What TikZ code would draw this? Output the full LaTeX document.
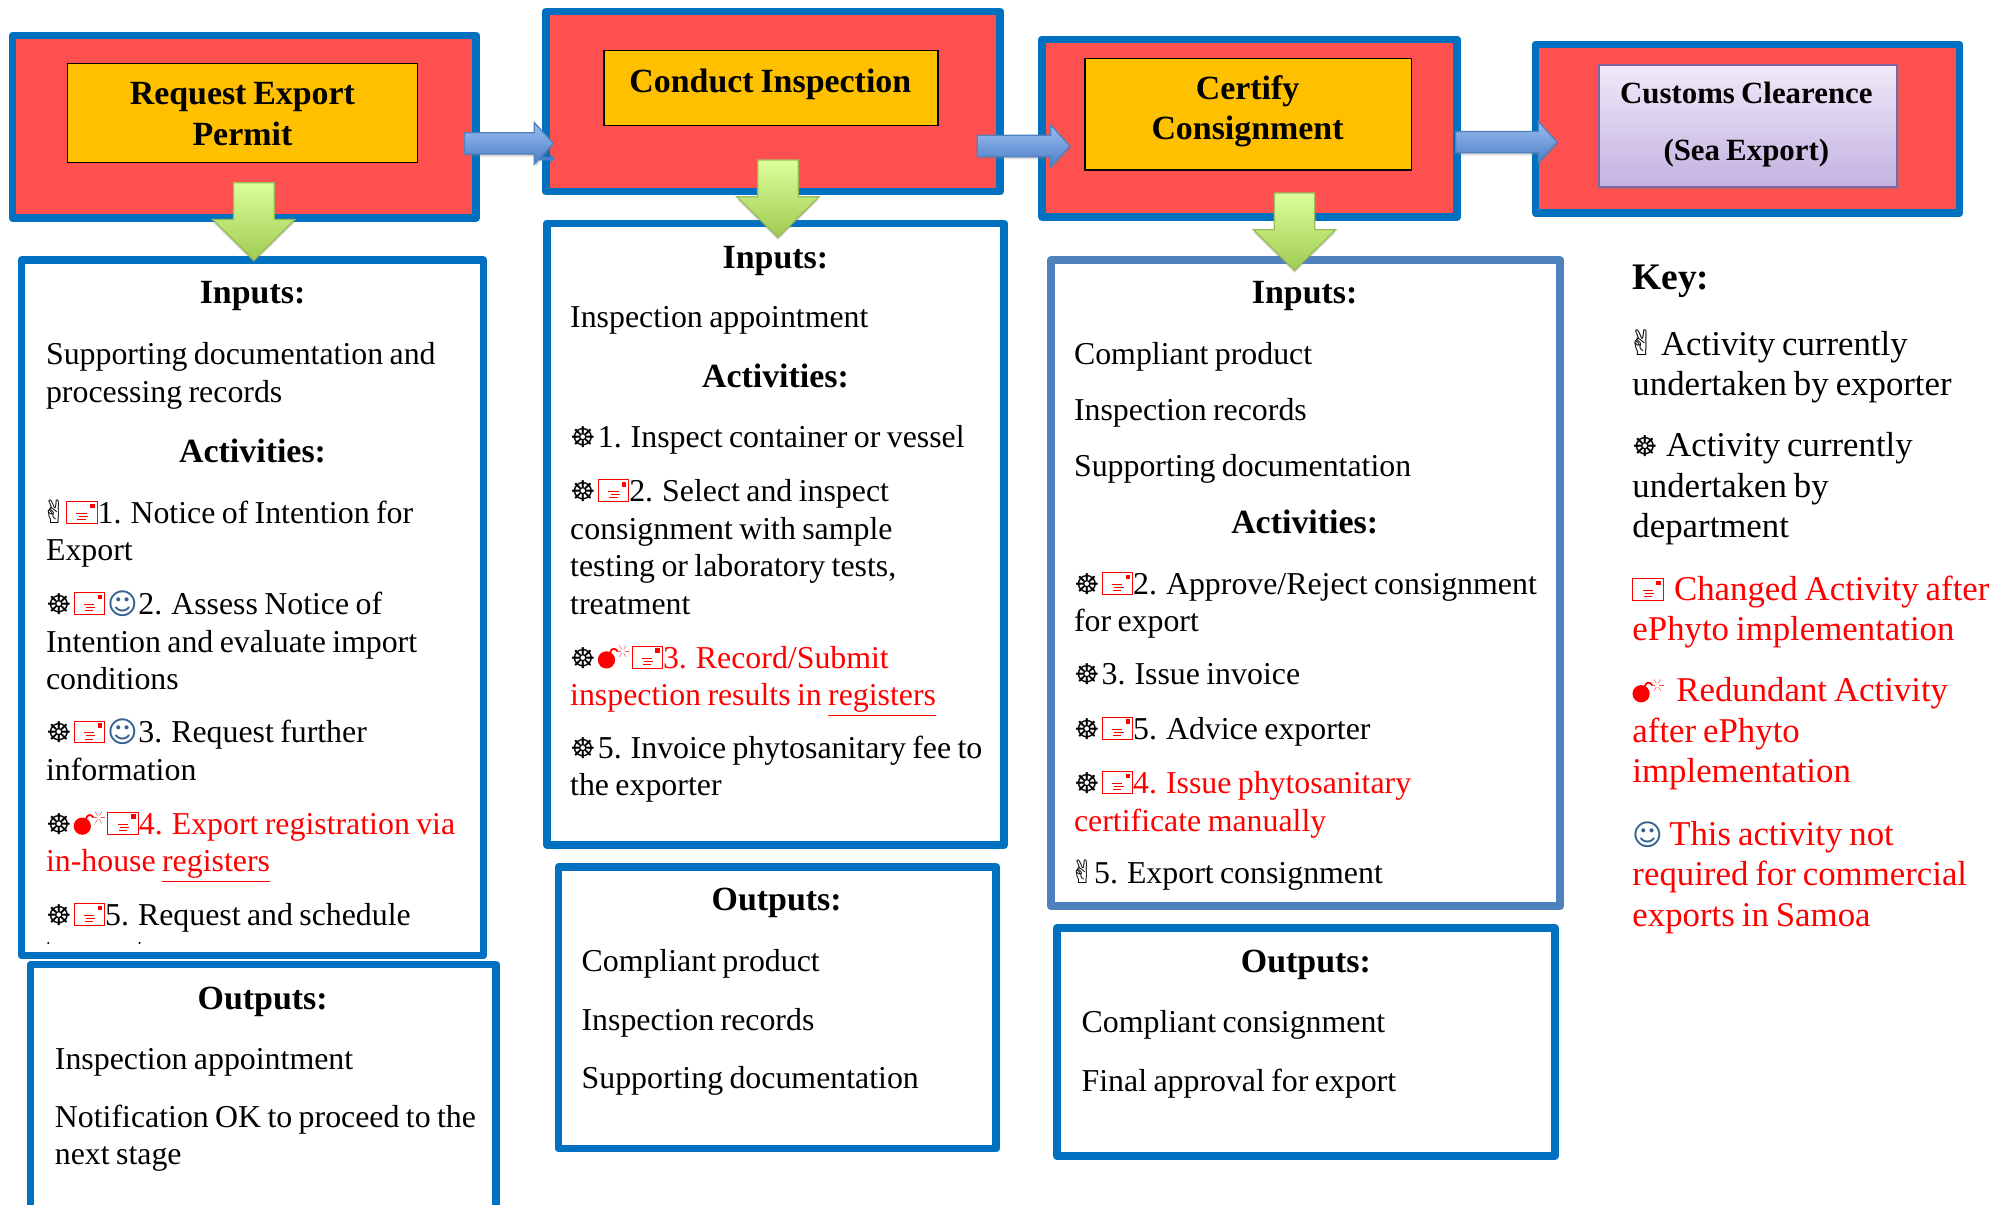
\documentclass[tikz,border=0pt]{standalone}
\usepackage{fontspec}
\usepackage{xcolor}
\usetikzlibrary{calc,fit,shadows}
\setmainfont[WordSpace=0.8]{Liberation Serif}
\newfontfamily\symfont{DejaVu Sans}
\definecolor{boxblue}{HTML}{0070C0}
\definecolor{softblue}{HTML}{4F81BD}
\definecolor{boxred}{HTML}{FF5050}
\definecolor{boxorange}{HTML}{FFC000}
\definecolor{smileblue}{HTML}{365F91}
\newcommand{\bodyfont}{\fontsize{17.85}{21}\selectfont}
\newcommand{\keyfont}{\fontsize{19.5}{22.7}\selectfont}
\newcommand{\headfont}{\fontsize{19}{21}\selectfont\bfseries}
\newcommand{\titlefont}{\fontsize{19}{22.7}\selectfont\bfseries}
\newcommand{\handsym}{\kern-.9mm{\color{black}\symfont\char"270C}\kern-.4mm}
\newcommand{\wheelsym}{{\color{black}\symfont\fontsize{16}{21}\selectfont\char"2638}\kern.4mm}
\newcommand{\smilesym}{{\color{smileblue}\symfont\fontsize{16.5}{21}\selectfont\char"263A}}
\newcommand{\mailsym}{\tikz[x=1mm,y=1mm,baseline=0pt,line width=.2mm]{
		\draw[red] (0,0) rectangle (6,4.3);
		\fill[red] (4.6,3) rectangle (5.5,3.9);
		\draw[red,line width=.12mm] (1.9,2) -- (4,2) (2.4,1.4) -- (4.2,1.4) (2.1,.8) -- (3.8,.8);}}
\newcommand{\bombsym}{\tikz[x=1mm,y=1mm,baseline=0pt,line width=.2mm]{
		\fill[red] (1.7,1.6) circle (1.7);
		\draw[red,line width=.35mm] (2.4,3) .. controls (2.7,4) and (3.4,4) .. (3.9,3.3);
		\foreach \a in {0,60,120,180,240,300}
		\draw[red!70,line width=.1mm] ($(4.9,3.3)+(\a:.4)$) -- ($(4.9,3.3)+(\a:1.3)$);}\kern.4mm}
\newcommand{\blockarrow}[6]{
	\coordinate (arrowbase) at ($(#3)!#6!(#2)$);
	\draw[#1] ($(#2)!#4!90:(#3)$) -- ($(arrowbase)!#4!90:(#3)$) -- ($(arrowbase)!#5!90:(#3)$) -- (#3)
		-- ($(arrowbase)!#5!-90:(#3)$) -- ($(arrowbase)!#4!-90:(#3)$) -- ($(#2)!#4!-90:(#3)$) -- cycle;}
\tikzset{
	redbox/.style={draw=boxblue,fill=boxred,line width=1.5mm,line join=round,inner sep=0pt,outer sep=0pt},
	whitebox/.style={draw=boxblue,fill=white,line width=1.5mm,line join=round,inner sep=0pt,outer sep=0pt},
	orangebox/.style={draw=black,fill=boxorange,line width=.25mm,inner sep=0pt,outer sep=0pt},
	lilacbox/.style={draw=lilacline,top color=lilactop,bottom color=lilacbottom,line width=.4mm,
		drop shadow={opacity=.45,shadow xshift=.4mm,shadow yshift=-.5mm},inner sep=0pt,outer sep=0pt},
	titletxt/.style={align=center,font=\titlefont,inner sep=0pt},
	headtxt/.style={anchor=north,inner sep=0pt,yshift=3.15mm,font=\headfont,execute at begin node=\strut},
	itemtxt/.style={anchor=north west,align=left,inner sep=0pt,yshift=3.15mm,font=\bodyfont,execute at begin node=\strut},
	keytxt/.style={anchor=north west,align=left,inner sep=0pt,yshift=3.4mm,font=\keyfont,execute at begin node=\strut},
	blueblock/.style={draw=softblue,line width=.25mm,top color=bluetop,bottom color=bluebottom,
		drop shadow={opacity=.3,shadow xshift=.3mm,shadow yshift=-.5mm}},
	greenblock/.style={draw=greenline,line width=.25mm,top color=greentop,bottom color=greenbottom,
		drop shadow={opacity=.3,shadow xshift=0mm,shadow yshift=-.5mm}}
}
\definecolor{lilacline}{HTML}{8064A2}
\definecolor{lilactop}{HTML}{F0E9F8}
\definecolor{lilacbottom}{HTML}{C3B2E1}
\definecolor{bluetop}{HTML}{9DBDF0}
\definecolor{bluebottom}{HTML}{4A7EC8}
\definecolor{greenline}{HTML}{9BBB59}
\definecolor{greentop}{HTML}{DBFF9B}
\definecolor{greenbottom}{HTML}{A0CB52}
\begin{document}
\begin{tikzpicture}[x=0.25mm,y=-0.25mm]
	\useasboundingbox (0,0) rectangle (1568,949);

	\node[redbox,fit={(10,28) (375,172)}] (request) {};
	\node[redbox,fit={(430,9) (788,151)}] (inspect) {};
	\node[redbox,fit={(821,31) (1148,171)}] (certify) {};
	\node[redbox,fit={(1210,35) (1544,168)}] (customs) {};
	\node[orangebox,fit={(53,50) (329,128)}] (requestin) {};
	\node[orangebox,fit={(476,40) (739,99)}] (inspectin) {};
	\node[orangebox,fit={(855,46) (1112,134)}] (certifyin) {};
	\node[lilacbox,fit={(1260,51) (1495,147)}] (customsin) {};
	\node[titletxt] (requesttxt) at (191,90) {Request Export\\Permit};
	\node[titletxt] (inspecttxt) at (607,66.5) {Conduct Inspection};
	\node[titletxt] (certifytxt) at (983,87.5) {Certify\\Consignment};
	\node[titletxt,font=\fontsize{17.3}{22.7}\selectfont\bfseries] (customstxt) at (1376,98) {Customs Clearence\\[3.2mm](Sea Export)};

	\node[whitebox,fit={(17,205) (381,753)}] (inputsa) {};
	\node[whitebox,fit={(24,760) (391,965)}] (outputsa) {};
	\node[whitebox,fit={(431,176) (791,666)}] (inputsb) {};
	\node[whitebox,fit={(440,683) (785,905)}] (outputsb) {};
	\node[whitebox,draw=softblue,fit={(828,205) (1229,714)}] (inputsc) {};
	\node[whitebox,fit={(833,731) (1225,911)}] (outputsc) {};

	\coordinate (aafrom) at ([shift={(-9,13)}]request.east);
	\coordinate (aato) at ([shift={(6,33)}]inspect.west);
	\coordinate (abfrom) at ([shift={(-18,35)}]inspect.east);
	\coordinate (abto) at ([shift={(22,14)}]certify.west);
	\coordinate (acfrom) at ([shift={(-1,11)}]certify.east);
	\coordinate (acto) at ([shift={(17,10.5)}]customs.west);
	\coordinate (tinyfrom) at ([shift={(-5,45)}]inspect.west);
	\coordinate (tinyto) at ([shift={(7,45)}]inspect.west);
	\blockarrow{blueblock}{aafrom}{aato}{2.1mm}{4.1mm}{3.75mm}
	\blockarrow{blueblock}{abfrom}{abto}{2.1mm}{4.1mm}{3.75mm}
	\blockarrow{blueblock}{acfrom}{acto}{2.1mm}{4.1mm}{3.75mm}
	\blockarrow{draw=softblue,fill=bluebottom,line width=.1mm}{tinyfrom}{tinyto}{.3mm}{.7mm}{.8mm}

	\coordinate (gafrom) at ([shift={(7.5,-28)}]request.south);
	\coordinate (gato) at ([shift={(1,0)}]inputsa.north);
	\coordinate (gbfrom) at ([shift={(4,-25)}]inspect.south);
	\coordinate (gbto) at ([shift={(2,11)}]inputsb.north);
	\coordinate (gcfrom) at ([shift={(35.5,-19)}]certify.south);
	\coordinate (gcto) at ([shift={(-8.5,8)}]inputsc.north);
	\blockarrow{greenblock}{gafrom}{gato}{4mm}{8.1mm}{8mm}
	\blockarrow{greenblock}{gbfrom}{gbto}{4mm}{8.1mm}{8mm}
	\blockarrow{greenblock}{gcfrom}{gcto}{4mm}{8.1mm}{8mm}

	\node[headtxt] (ainhead) at (199,231) {Inputs:};
	\node[itemtxt] (ainone) at (36,279) {\strut Supporting documentation and\\processing records};
	\node[headtxt] (aacthead) at (199,356) {Activities:};
	\node[itemtxt] (aactone) at (36,404) {\strut\handsym\mailsym1. Notice of Intention for\\Export};
	\node[itemtxt] (aacttwo) at (36,476) {\strut\wheelsym\mailsym\kern.5mm\smilesym2. Assess Notice of\\Intention and evaluate import\\conditions};
	\node[itemtxt] (aactthree) at (36,577) {\strut\wheelsym\mailsym\kern.5mm\smilesym3. Request further\\information};
	\node[itemtxt,text=red] (aactfour) at (36,649) {\strut\wheelsym\bombsym\mailsym4. Export registration via\\in-house \underline{registers}};
	\node[itemtxt] (aactfive) at (36,721) {\wheelsym\mailsym5. Request and schedule};
	\fill (38,743) circle (.9) (110,743) circle (.9);
	\node[headtxt] (aouthead) at (207,787) {Outputs:};
	\node[itemtxt] (aoutone) at (43,834) {Inspection appointment};
	\node[itemtxt] (aouttwo) at (43,880) {\strut Notification OK to proceed to the\\next stage};

	\node[headtxt] (binhead) at (611,203) {Inputs:};
	\node[itemtxt] (binone) at (449,250) {Inspection appointment};
	\node[headtxt] (bacthead) at (611,297) {Activities:};
	\node[itemtxt] (bactone) at (449,344) {\wheelsym1. Inspect container or vessel};
	\node[itemtxt] (bacttwo) at (449,387) {\strut\wheelsym\mailsym2. Select and inspect\\consignment with sample\\testing or laboratory tests,\\treatment};
	\node[itemtxt,text=red] (bactthree) at (449,518) {\strut\wheelsym\bombsym\mailsym3. Record/Submit\\inspection results in \underline{registers}};
	\node[itemtxt] (bactfive) at (449,589) {\strut\wheelsym5. Invoice phytosanitary fee to\\the exporter};
	\node[headtxt] (bouthead) at (612,709) {Outputs:};
	\node[itemtxt] (boutone) at (458,757) {Compliant product};
	\node[itemtxt] (bouttwo) at (458,804) {Inspection records};
	\node[itemtxt] (boutthree) at (458,849) {Supporting documentation};

	\node[headtxt] (cinhead) at (1028,231) {Inputs:};
	\node[itemtxt] (cinone) at (846,279) {Compliant product};
	\node[itemtxt] (cintwo) at (846,323) {Inspection records};
	\node[itemtxt] (cinthree) at (846,367) {Supporting documentation};
	\node[headtxt] (cacthead) at (1028,412) {Activities:};
	\node[itemtxt] (cacttwo) at (846,460) {\strut\wheelsym\mailsym2. Approve/Reject consignment\\for export};
	\node[itemtxt] (cactthree) at (846,531) {\wheelsym3. Issue invoice};
	\node[itemtxt] (cactfive) at (846,574) {\wheelsym\mailsym5. Advice exporter};
	\node[itemtxt,text=red] (cactfour) at (846,617) {\strut\wheelsym\mailsym4. Issue phytosanitary\\certificate manually};
	\node[itemtxt] (cactlast) at (846,688) {\handsym5. Export consignment};
	\node[headtxt] (couthead) at (1029,758) {Outputs:};
	\node[itemtxt] (coutone) at (852,805) {Compliant consignment};
	\node[itemtxt] (couttwo) at (852,852) {Final approval for export};

	\node[keytxt,font=\fontsize{21}{26}\selectfont\bfseries] (keyhead) at (1286,216) {Key:};
	\node[keytxt] (keyone) at (1286,271) {\strut\handsym\hspace{1.2mm}Activity currently\\undertaken by exporter};
	\node[keytxt] (keytwo) at (1286,351) {\strut\wheelsym\hspace{1.2mm}Activity currently\\undertaken by\\department};
	\node[keytxt,text=red] (keythree) at (1286,464) {\strut\mailsym\hspace{2mm}Changed Activity after\\ePhyto implementation};
	\node[keytxt,text=red] (keyfour) at (1286,544) {\strut\bombsym\hspace{2mm}Redundant Activity\\after ePhyto\\implementation};
	\node[keytxt,text=red] (keyfive) at (1286,657) {\strut\smilesym\hspace{1.2mm}This activity not\\required for commercial\\exports in Samoa};
\end{tikzpicture}
\end{document}
